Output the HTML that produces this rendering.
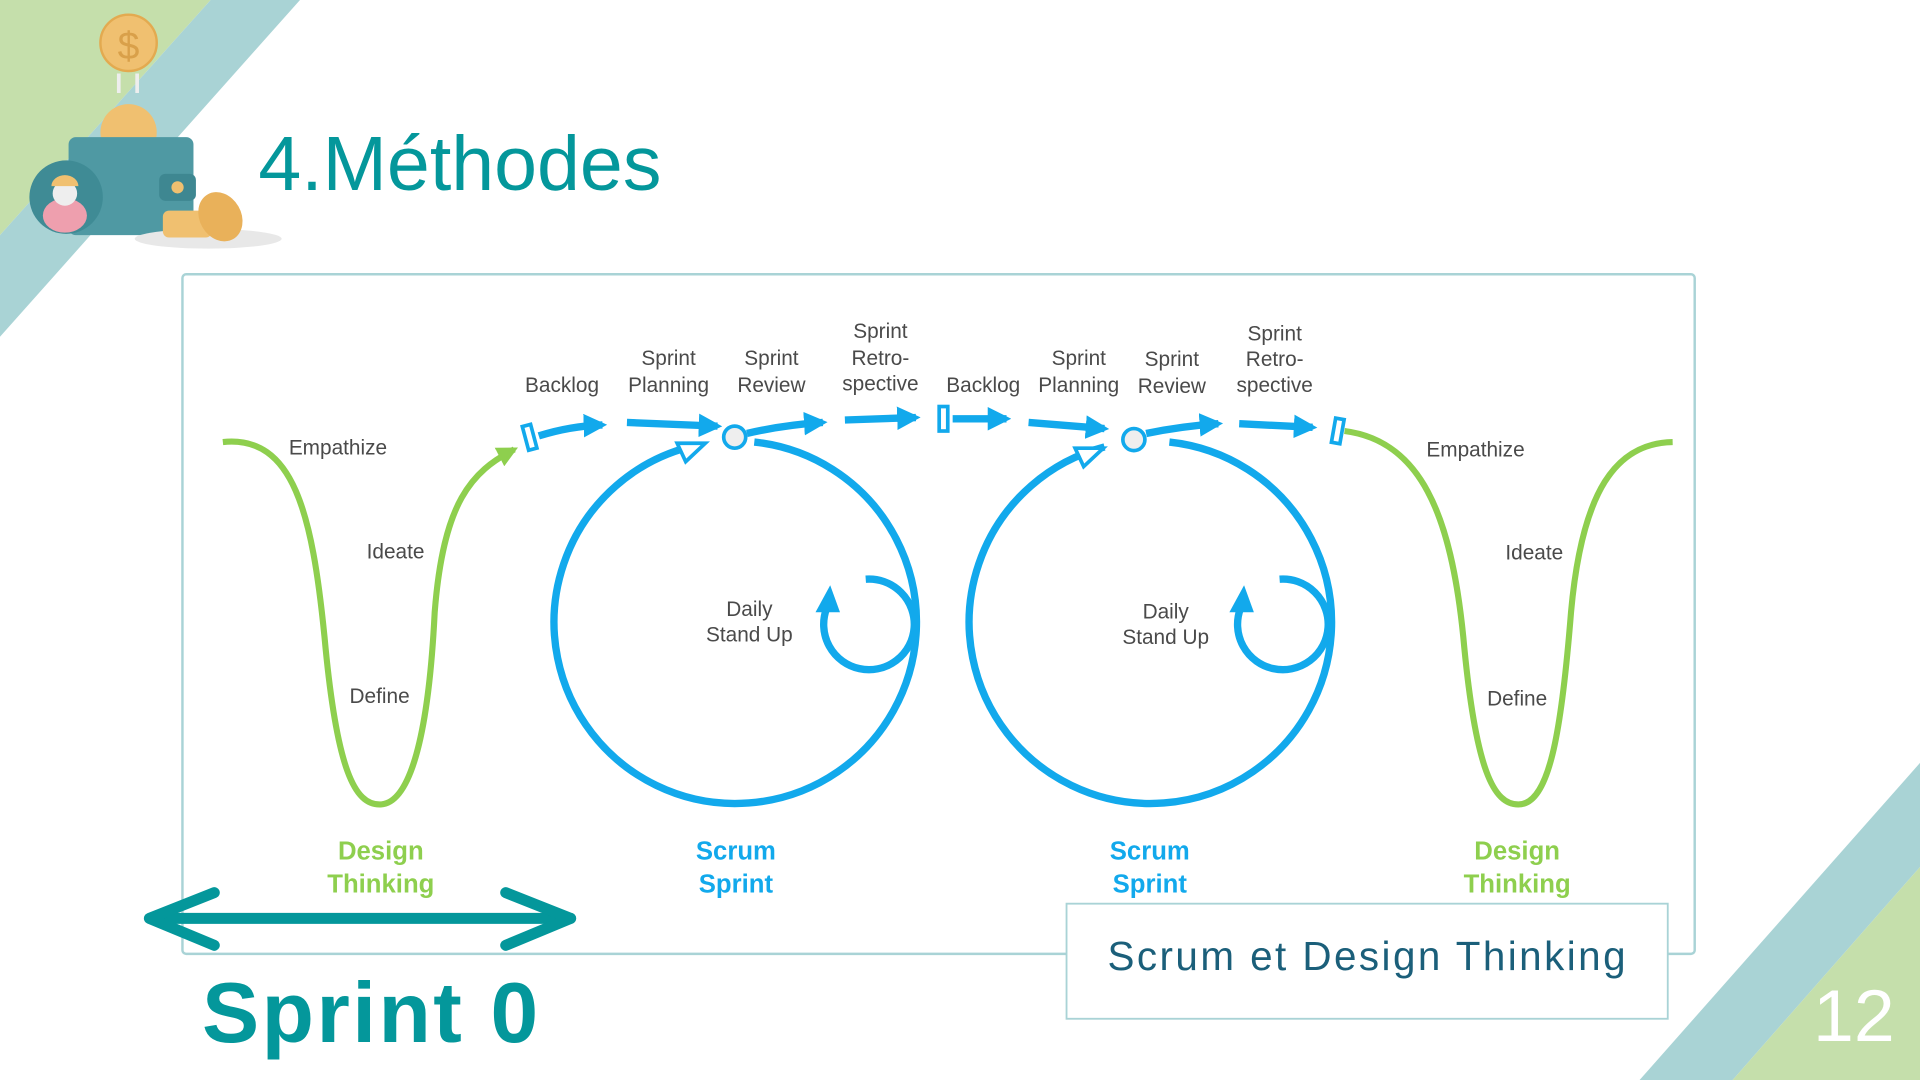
<!DOCTYPE html>
<html><head><meta charset="utf-8"><style>
html,body{margin:0;padding:0;width:1920px;height:1080px;overflow:hidden;background:#fff}
svg{display:block}
text{font-family:"Liberation Sans",sans-serif}
</style></head><body>
<svg width="1920" height="1080" viewBox="0 0 1568 882" xmlns="http://www.w3.org/2000/svg">
<defs>
<marker id="ab" viewBox="0 0 10 10" refX="8" refY="5" markerWidth="3.2" markerHeight="3.2" orient="auto"><path d="M0,0L10,5L0,10z" fill="#12a9ec"/></marker>
<marker id="ag" viewBox="0 0 10 10" refX="8" refY="5" markerWidth="3.4" markerHeight="3.4" orient="auto"><path d="M0,0L10,5L0,10z" fill="#8ecf4e"/></marker>
</defs>
<polygon points="0,0 172,0 0,192" fill="#c5dfab"/>
<polygon points="172,0 245,0 0,275 0,192" fill="#a9d3d5"/>
<polygon points="1568,623 1568,708 1415,882 1339,882" fill="#a9d3d5"/>
<polygon points="1568,708 1568,882 1415,882" fill="#c5dfab"/>
<text x="1514" y="850" font-size="60" fill="#fff" text-anchor="middle">12</text>
<circle cx="105" cy="35" r="23" fill="#f0c070" stroke="#e3aa50" stroke-width="2"/>
<text x="105" y="48" font-size="32" fill="#d9a04a" text-anchor="middle">$</text>
<path d="M97,60v16M112,60v16" stroke="#eee" stroke-width="3"/>
<circle cx="105" cy="108" r="23" fill="#f0c070"/>
<rect x="56" y="112" width="102" height="80" rx="6" fill="#4f99a3"/>
<rect x="130" y="142" width="30" height="22" rx="5" fill="#3e8791"/>
<circle cx="145" cy="153" r="5" fill="#f0c070"/>
<ellipse cx="54" cy="161" rx="30" ry="30" fill="#3f8b95"/>
<ellipse cx="53" cy="176" rx="18" ry="14" fill="#ee9fae"/>
<circle cx="53" cy="158" r="10" fill="#eee"/>
<path d="M42,152a11,9 0 0 1 22,0z" fill="#f0c070"/>
<ellipse cx="170" cy="195" rx="60" ry="8" fill="#e8e8e8"/>
<rect x="133" y="172" width="40" height="22" rx="5" fill="#f0c070"/>
<ellipse cx="180" cy="177" rx="17" ry="21" fill="#e9b15a" transform="rotate(-30 180 177)"/>
<text x="211" y="155" font-size="63" fill="#04979b">4.Méthodes</text>
<rect x="149" y="224" width="1235" height="555" rx="3" fill="#fff" stroke="#a9d3d6" stroke-width="2"/>
<path d="M182,361 C240,355 255,420 265,520 C275,630 290,657 310,657 C335,657 350,600 355,500 C362,410 385,385 420,367" fill="none" stroke="#8ecf4e" stroke-width="5" marker-end="url(#ag)"/>
<path d="M1098,352 C1160,360 1185,420 1195,520 C1205,630 1220,657 1240,657 C1265,657 1275,600 1283,500 C1292,400 1320,362 1366,361" fill="none" stroke="#8ecf4e" stroke-width="5"/>
<g fill="none" stroke="#12a9ec" stroke-width="6">
<path d="M440,356 Q465,348 492,347" marker-end="url(#ab)"/>
<path d="M512,345 L586,348" marker-end="url(#ab)"/>
<path d="M610,354 Q640,347 672,345" marker-end="url(#ab)"/>
<path d="M690,343 L748,341" marker-end="url(#ab)"/>
<path d="M778,342 L822,342" marker-end="url(#ab)"/>
<path d="M840,345 L902,350" marker-end="url(#ab)"/>
<path d="M936,354 Q965,348 995,346" marker-end="url(#ab)"/>
<path d="M1012,346 L1072,349" marker-end="url(#ab)"/>
</g>
<g fill="#fff" stroke="#12a9ec" stroke-width="3">
<rect x="429" y="347" width="7" height="20" transform="rotate(-15 433 357)"/>
<rect x="767" y="332" width="7" height="20"/>
<rect x="1089" y="342" width="7" height="20" transform="rotate(10 1093 352)"/>
</g>
<g fill="none" stroke="#12a9ec" stroke-width="6">
<path d="M616,361 A148,148 0 1 1 563,365"/>
<path d="M955,361 A148,148 0 1 1 902,365"/>
<path d="M707,473 A37,37 0 1 1 675,497"/>
<path d="M1045,473 A37,37 0 1 1 1013,497"/>
</g>
<g fill="#fff" stroke="#12a9ec" stroke-width="3">
<path d="M553,362 L576,362 L560,377z"/>
<path d="M878,366 L901,366 L885,381z"/>
</g>
<path d="M666,500 L678,478 L686,500z" fill="#12a9ec"/>
<path d="M1004,500 L1016,478 L1024,500z" fill="#12a9ec"/>
<circle cx="600" cy="357" r="9" fill="#eee" stroke="#12a9ec" stroke-width="3"/>
<circle cx="926" cy="359" r="9" fill="#eee" stroke="#12a9ec" stroke-width="3"/>
<g font-size="17" fill="#4a4a4a" text-anchor="middle">
<text x="459" y="320">Backlog</text>
<text x="546" y="298">Sprint</text><text x="546" y="320">Planning</text>
<text x="630" y="298">Sprint</text><text x="630" y="320">Review</text>
<text x="719" y="276">Sprint</text><text x="719" y="298">Retro-</text><text x="719" y="319">spective</text>
<text x="803" y="320">Backlog</text>
<text x="881" y="298">Sprint</text><text x="881" y="320">Planning</text>
<text x="957" y="299">Sprint</text><text x="957" y="321">Review</text>
<text x="1041" y="278">Sprint</text><text x="1041" y="299">Retro-</text><text x="1041" y="320">spective</text>
<text x="276" y="371">Empathize</text>
<text x="323" y="456">Ideate</text>
<text x="310" y="574">Define</text>
<text x="1205" y="373">Empathize</text>
<text x="1253" y="457">Ideate</text>
<text x="1239" y="576">Define</text>
<text x="612" y="503">Daily</text><text x="612" y="524">Stand Up</text>
<text x="952" y="505">Daily</text><text x="952" y="526">Stand Up</text>
</g>
<g font-size="21" font-weight="bold" text-anchor="middle">
<text x="311" y="702" fill="#8ecf4e">Design</text><text x="311" y="729" fill="#8ecf4e">Thinking</text>
<text x="601" y="702" fill="#12a9ec">Scrum</text><text x="601" y="729" fill="#12a9ec">Sprint</text>
<text x="939" y="702" fill="#12a9ec">Scrum</text><text x="939" y="729" fill="#12a9ec">Sprint</text>
<text x="1239" y="702" fill="#8ecf4e">Design</text><text x="1239" y="729" fill="#8ecf4e">Thinking</text>
</g>
<rect x="871" y="738" width="491" height="94" fill="#fff" stroke="#a9d3d6" stroke-width="1.5"/>
<text x="1117" y="792" font-size="33" fill="#1b5f7a" text-anchor="middle" letter-spacing="2">Scrum et Design Thinking</text>
<g fill="none" stroke="#04979b" stroke-width="9" stroke-linecap="round" stroke-linejoin="round">
<path d="M125,750 H466"/>
<path d="M175,729 L122,750 L175,772"/>
<path d="M413,729 L466,750 L413,772"/>
</g>
<text x="165" y="851" font-size="70" font-weight="bold" fill="#04979b" letter-spacing="2">Sprint 0</text>
</svg>
</body></html>
